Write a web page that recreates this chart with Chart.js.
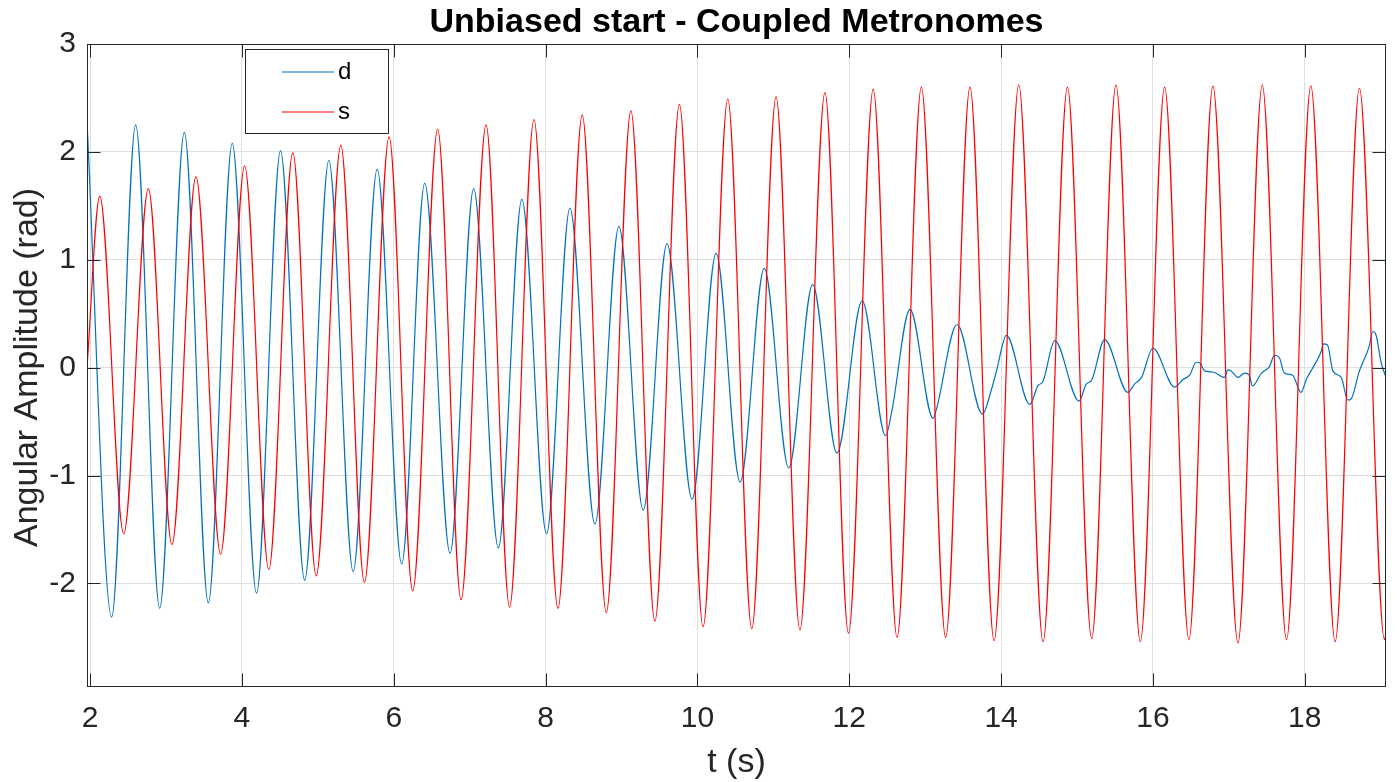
<!DOCTYPE html>
<html><head><meta charset="utf-8">
<script src="https://cdn.jsdelivr.net/npm/chart.js@4"></script>
<style>html,body{margin:0;padding:0;background:#fff}</style>
</head><body>
<canvas id="c" width="1400" height="782"></canvas>
<script>
// ---- data ----
const chartTitle = 'Unbiased start - Coupled Metronomes';
const xLabel = 't (s)';
const yLabel = 'Angular Amplitude (rad)';
const seriesNames = ['d', 's'];
const xTicks = [2, 4, 6, 8, 10, 12, 14, 16, 18];
const yTicks = [-2, -1, 0, 1, 2, 3];

const tD = [1.96, 2.285, 2.601, 2.917, 3.242, 3.558, 3.873, 4.193, 4.509, 4.827,
  5.145, 5.466, 5.782, 6.105, 6.408, 6.742, 7.053, 7.378, 7.688, 8.013,
  8.321, 8.65, 8.966, 9.286, 9.60, 9.93, 10.246, 10.562, 10.88, 11.203,
  11.518, 11.838, 12.17, 12.48, 12.558, 12.80, 13.105, 13.15, 13.42, 13.755,
  13.874, 13.94, 14.07, 14.378, 14.487, 14.55, 14.707, 15.026, 15.124, 15.19,
  15.364, 15.67, 15.76, 15.85, 16.0, 16.286, 16.395, 16.483, 16.571, 16.624,
  16.68, 16.79, 16.943, 16.987, 17.03, 17.12, 17.207, 17.27, 17.31, 17.43,
  17.535, 17.60, 17.667, 17.73, 17.84, 17.95, 18.02, 18.216, 18.246, 18.30,
  18.37, 18.48, 18.566, 18.61, 18.72, 18.85, 18.895, 18.94, 19.005, 19.07];
const dVals = [2.28, -2.31, 2.25, -2.23, 2.18, -2.18, 2.08, -2.09, 2.01, -1.97,
  1.92, -1.89, 1.84, -1.82, 1.71, -1.72, 1.66, -1.67, 1.56, -1.54,
  1.48, -1.45, 1.31, -1.32, 1.15, -1.22, 1.06, -1.06, 0.92, -0.93,
  0.77, -0.79, 0.62, -0.63, -0.415, 0.54, -0.47, -0.38, 0.40, -0.43,
  -0.20, -0.03, 0.30, -0.34, -0.165, -0.13, 0.25, -0.31, -0.15, -0.12,
  0.26, -0.23, -0.15, -0.09, 0.18, -0.18, -0.11, -0.07, 0.05, 0.04,
  -0.03, -0.04, -0.09, -0.02, -0.03, -0.09, -0.05, -0.07, -0.17, -0.05,
  0.01, 0.115, 0.09, -0.05, -0.07, -0.23, -0.11, 0.15, 0.22, 0.21,
  -0.03, -0.09, -0.30, -0.29, -0.03, 0.20, 0.335, 0.30, 0.05, -0.09];

const tS = [1.96, 2.128, 2.443, 2.768, 3.079, 3.395, 3.72, 4.036, 4.355, 4.671,
  4.979, 5.303, 5.614, 5.939, 6.25, 6.579, 6.887, 7.216, 7.526, 7.847,
  8.163, 8.483, 8.80, 9.124, 9.44, 9.763, 10.075, 10.40, 10.716, 11.036,
  11.35, 11.68, 11.99, 12.316, 12.63, 12.95, 13.27, 13.59, 13.908, 14.233,
  14.553, 14.874, 15.193, 15.513, 15.834, 16.154, 16.474, 16.79, 17.12, 17.44,
  17.76, 18.08, 18.40, 18.72, 19.05, 19.07];
const sVals = [0.0, 1.59, -1.54, 1.66, -1.64, 1.77, -1.73, 1.87, -1.87, 1.99,
  -1.93, 2.06, -1.99, 2.14, -2.07, 2.21, -2.15, 2.25, -2.22, 2.30,
  -2.23, 2.34, -2.27, 2.38, -2.35, 2.44, -2.40, 2.49, -2.42, 2.51,
  -2.43, 2.55, -2.46, 2.58, -2.50, 2.60, -2.50, 2.60, -2.53, 2.62,
  -2.54, 2.60, -2.51, 2.62, -2.54, 2.60, -2.52, 2.61, -2.55, 2.62,
  -2.52, 2.61, -2.54, 2.59, -2.52, -2.47];

// ---- styling ----
const FONT = '"Liberation Sans", Arial, Helvetica, sans-serif';
const AX = '#262626';
const GRID = '#dfdfdf';
const colD = '#0072BD';
const colS = '#FF0000';

const framePlugin = {
  id: 'frame',
  afterDraw(chart) {
    const ctx = chart.ctx, a = chart.chartArea;
    const xs = chart.scales.x, ys = chart.scales.y;
    ctx.save();
    // box
    ctx.strokeStyle = AX; ctx.lineWidth = 1;
    const L = Math.round(a.left) + 0.5, R = Math.round(a.right) - 0.5;
    const T = Math.round(a.top) + 0.5, B = Math.round(a.bottom) - 0.5;
    ctx.strokeRect(L, T, R - L, B - T);
    // inward ticks
    const tl = 13;
    ctx.beginPath();
    xTicks.forEach(v => {
      const px = Math.round(xs.getPixelForValue(v)) + 0.5;
      ctx.moveTo(px, B); ctx.lineTo(px, B - tl);
      ctx.moveTo(px, T); ctx.lineTo(px, T + tl);
    });
    yTicks.forEach(v => {
      const py = Math.round(ys.getPixelForValue(v)) + 0.5;
      ctx.moveTo(L, py); ctx.lineTo(L + tl, py);
      ctx.moveTo(R, py); ctx.lineTo(R - tl, py);
    });
    ctx.stroke();
    // title
    ctx.fillStyle = '#000';
    ctx.font = 'bold 34px ' + FONT;
    ctx.textAlign = 'center'; ctx.textBaseline = 'alphabetic';
    ctx.fillText(chartTitle, (a.left + a.right) / 2, 32);
    // axis titles
    ctx.fillStyle = AX;
    ctx.font = '34px ' + FONT;
    ctx.textBaseline = 'middle';
    ctx.fillText(xLabel, (a.left + a.right) / 2, 763);
    ctx.save();
    ctx.translate(28, (a.top + a.bottom) / 2 + 2);
    ctx.rotate(-Math.PI / 2);
    ctx.fillText(yLabel, 0, 0);
    ctx.restore();
    // legend
    const bx = 245.5, by = 49.5, bw = 143, bh = 84;
    ctx.fillStyle = '#fff';
    ctx.fillRect(bx, by, bw, bh);
    ctx.strokeStyle = AX; ctx.lineWidth = 1;
    ctx.strokeRect(bx, by, bw, bh);
    const ds = chart.data.datasets;
    const rows = [72, 112];
    ctx.font = '24px ' + FONT;
    ctx.textAlign = 'left'; ctx.textBaseline = 'middle';
    ds.forEach((d, i) => {
      ctx.strokeStyle = d.borderColor; ctx.lineWidth = 1.2;
      ctx.beginPath(); ctx.moveTo(282, rows[i]); ctx.lineTo(334, rows[i]); ctx.stroke();
      ctx.fillStyle = '#000';
      ctx.fillText(d.label, 338, rows[i]);
    });
    ctx.restore();
  }
};

new Chart(document.getElementById('c'), {
  type: 'line',
  data: {
    datasets: [
      { label: seriesNames[0], data: tD.map((t, i) => ({ x: t, y: dVals[i] })),
        borderColor: colD, borderWidth: 1.2, pointRadius: 0, fill: false,
        cubicInterpolationMode: 'monotone', order: 1 },
      { label: seriesNames[1], data: tS.map((t, i) => ({ x: t, y: sVals[i] })),
        borderColor: colS, borderWidth: 1.2, pointRadius: 0, fill: false,
        cubicInterpolationMode: 'monotone', order: 0 }
    ]
  },
  options: {
    responsive: false, animation: false, events: [],
    layout: { padding: { top: 44, right: 14, left: 0, bottom: 0 } },
    plugins: { legend: { display: false }, tooltip: { enabled: false }, title: { display: false } },
    scales: {
      x: {
        type: 'linear', min: 1.96, max: 19.07,
        afterBuildTicks: s => { s.ticks = xTicks.map(v => ({ value: v })); },
        afterFit: s => { s.height = 95; },
        grid: { color: GRID, drawTicks: false, lineWidth: 1 },
        border: { display: false },
        ticks: { font: { family: FONT, size: 30 }, color: AX, padding: 14, maxRotation: 0, autoSkip: false }
      },
      y: {
        type: 'linear', min: -2.96, max: 3,
        afterBuildTicks: s => { s.ticks = yTicks.map(v => ({ value: v })); },
        afterFit: s => { s.width = 87; },
        grid: { color: GRID, drawTicks: false, lineWidth: 1 },
        border: { display: false },
        ticks: { font: { family: FONT, size: 30 }, color: AX, padding: 11, autoSkip: false }
      }
    }
  },
  plugins: [framePlugin]
});
</script>
</body></html>
